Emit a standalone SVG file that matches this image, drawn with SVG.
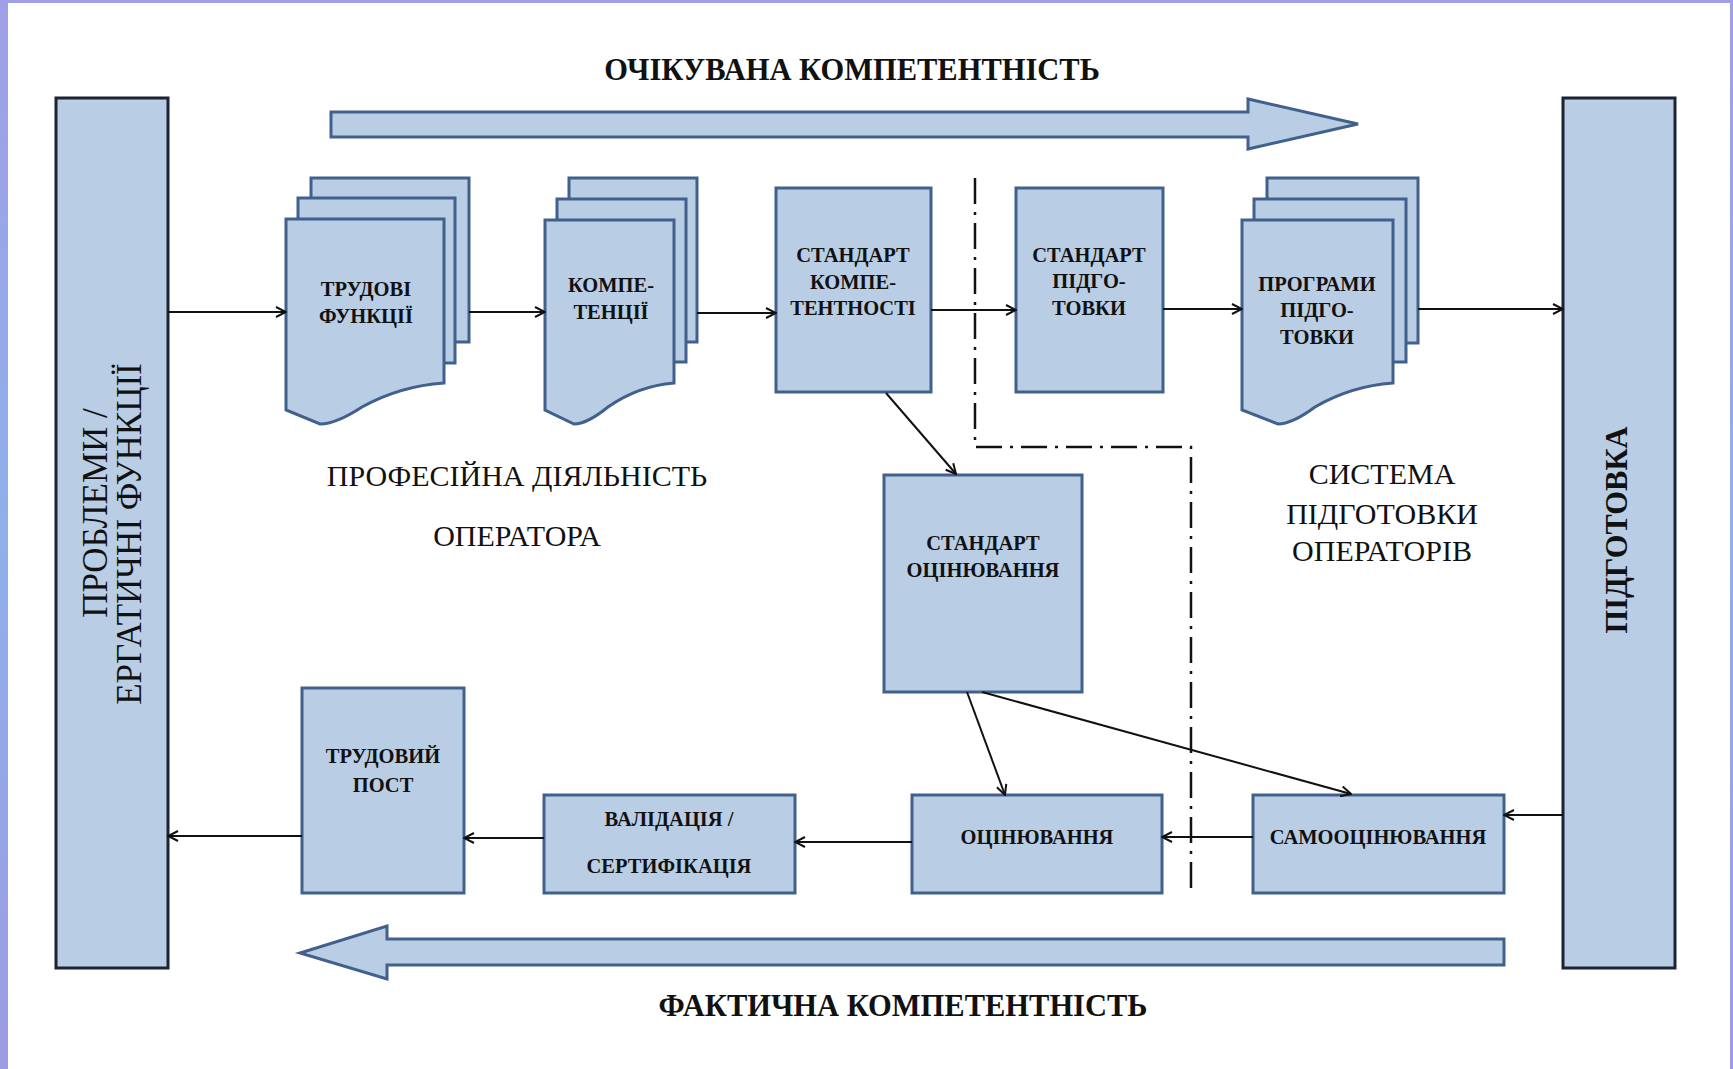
<svg xmlns="http://www.w3.org/2000/svg" width="1733" height="1069" viewBox="0 0 1733 1069">
<defs>
<linearGradient id="bg" x1="0" y1="0" x2="0" y2="1">
<stop offset="0" stop-color="#a09fe6"/>
<stop offset="0.5" stop-color="#8fb0ea"/>
<stop offset="1" stop-color="#9c9be4"/>
</linearGradient>
<marker id="ah" viewBox="0 0 12 12" refX="11" refY="6" markerWidth="12" markerHeight="12" markerUnits="userSpaceOnUse" orient="auto">
<path d="M1,1 L11,6 L1,11" fill="none" stroke="#111" stroke-width="2"/>
</marker>
<style>
.box{fill:#b9cde4;stroke:#41608c;stroke-width:3}
.tall{fill:#b9cde4;stroke:#1c2333;stroke-width:3}
.big{fill:#b9cde4;stroke:#41608c;stroke-width:3;stroke-linejoin:miter}
.lbl{font-family:"Liberation Serif","Times New Roman",serif;font-weight:bold;font-size:20.5px;fill:#111;text-anchor:middle}
.hd{font-family:"Liberation Serif","Times New Roman",serif;font-weight:bold;font-size:30.5px;fill:#111;text-anchor:middle}
.rg{font-family:"Liberation Serif","Times New Roman",serif;font-size:30px;fill:#111;text-anchor:middle}
.rv{font-family:"Liberation Serif","Times New Roman",serif;font-size:35px;fill:#111;text-anchor:middle}
.con{fill:none;stroke:#111;stroke-width:2;marker-end:url(#ah)}
.dd{fill:none;stroke:#111;stroke-width:2.5;stroke-dasharray:26 8 3 8}
</style>
</defs>
<rect x="0" y="0" width="1733" height="1069" fill="url(#bg)"/>
<rect x="8" y="3" width="1722" height="1066" fill="#ffffff"/>

<g id="title-top"><text class="hd" x="852" y="80">ОЧІКУВАНА КОМПЕТЕНТНІСТЬ</text></g>
<g id="title-bottom"><text class="hd" x="903" y="1016">ФАКТИЧНА КОМПЕТЕНТНІСТЬ</text></g>

<g id="arrow-top"><polygon class="big" points="331,112 1248,112 1248,99 1358,124 1248,149 1248,137 331,137"/></g>
<g id="arrow-bottom"><polygon class="big" points="1504,939 387,939 387,926 300,953 387,979 387,965 1504,965"/></g>

<g id="problems">
<rect class="tall" x="56" y="98" width="112" height="870"/>
<text class="rv" transform="translate(107,513) rotate(-90)">ПРОБЛЕМИ /</text>
<text class="rv" transform="translate(141,534) rotate(-90)">ЕРГАТИЧНІ ФУНКЦІЇ</text>
</g>
<g id="training">
<rect class="tall" x="1563" y="98" width="112" height="870"/>
<text class="hd" transform="translate(1627,530) rotate(-90)">ПІДГОТОВКА</text>
</g>

<g id="labour-functions">
<rect class="box" x="311" y="178" width="158" height="164"/>
<rect class="box" x="298" y="198" width="157" height="165"/>
<path class="box" d="M286,219 H444 V383 Q400,386 362,407 Q336,424 320,424 L286,410 Z"/>
<text class="lbl" x="366" y="296">ТРУДОВІ</text>
<text class="lbl" x="366" y="323">ФУНКЦІЇ</text>
</g>

<g id="competences">
<rect class="box" x="569" y="178" width="128" height="164"/>
<rect class="box" x="557" y="199" width="129" height="163"/>
<path class="box" d="M545,220 H674 V383 Q638,386 608,407 Q587,424 574,424 L545,410 Z"/>
<text class="lbl" x="611" y="292">КОМПЕ-</text>
<text class="lbl" x="611" y="319">ТЕНЦІЇ</text>
</g>

<g id="competence-standard">
<rect class="box" x="776" y="188" width="155" height="204"/>
<text class="lbl" x="853" y="262">СТАНДАРТ</text>
<text class="lbl" x="853" y="289">КОМПЕ-</text>
<text class="lbl" x="853" y="315">ТЕНТНОСТІ</text>
</g>

<g id="training-standard">
<rect class="box" x="1016" y="188" width="147" height="204"/>
<text class="lbl" x="1089" y="262">СТАНДАРТ</text>
<text class="lbl" x="1089" y="288">ПІДГО-</text>
<text class="lbl" x="1089" y="315">ТОВКИ</text>
</g>

<g id="training-programs">
<rect class="box" x="1267" y="178" width="151" height="165"/>
<rect class="box" x="1254" y="199" width="152" height="163"/>
<path class="box" d="M1242,220 H1393 V383 Q1351,386 1315,407 Q1292,424 1278,424 L1242,410 Z"/>
<text class="lbl" x="1317" y="291">ПРОГРАМИ</text>
<text class="lbl" x="1317" y="317">ПІДГО-</text>
<text class="lbl" x="1317" y="344">ТОВКИ</text>
</g>

<g id="assessment-standard">
<rect class="box" x="884" y="475" width="198" height="217"/>
<text class="lbl" x="983" y="550">СТАНДАРТ</text>
<text class="lbl" x="983" y="577">ОЦІНЮВАННЯ</text>
</g>

<g id="work-post">
<rect class="box" x="302" y="688" width="162" height="205"/>
<text class="lbl" x="383" y="763">ТРУДОВИЙ</text>
<text class="lbl" x="383" y="792">ПОСТ</text>
</g>

<g id="validation">
<rect class="box" x="544" y="795" width="251" height="98"/>
<text class="lbl" x="669" y="826">ВАЛІДАЦІЯ /</text>
<text class="lbl" x="669" y="873">СЕРТИФІКАЦІЯ</text>
</g>

<g id="assessment">
<rect class="box" x="912" y="795" width="250" height="98"/>
<text class="lbl" x="1037" y="844">ОЦІНЮВАННЯ</text>
</g>

<g id="self-assessment">
<rect class="box" x="1253" y="795" width="251" height="98"/>
<text class="lbl" x="1378" y="844">САМООЦІНЮВАННЯ</text>
</g>

<g id="area-labels">
<text class="rg" x="517" y="486">ПРОФЕСІЙНА ДІЯЛЬНІСТЬ</text>
<text class="rg" x="517" y="546">ОПЕРАТОРА</text>
<text class="rg" x="1382" y="484">СИСТЕМА</text>
<text class="rg" x="1382" y="524">ПІДГОТОВКИ</text>
<text class="rg" x="1382" y="561">ОПЕРАТОРІВ</text>
</g>

<g id="boundary"><path class="dd" d="M975,178 V447 H1191 V893"/></g>

<g id="connectors">
<path class="con" d="M168,312 H286"/>
<path class="con" d="M469,312 H545"/>
<path class="con" d="M697,313 H776"/>
<path class="con" d="M931,310 H1016"/>
<path class="con" d="M1163,309 H1242"/>
<path class="con" d="M1418,309 H1563"/>
<path class="con" d="M886,393 L956,474"/>
<path class="con" d="M967,692 L1005,795"/>
<path class="con" d="M982,692 L1351,794"/>
<path class="con" d="M1563,815 H1504"/>
<path class="con" d="M1253,837 H1162"/>
<path class="con" d="M912,842 H795"/>
<path class="con" d="M544,838 H464"/>
<path class="con" d="M302,836 H168"/>
</g>
</svg>
